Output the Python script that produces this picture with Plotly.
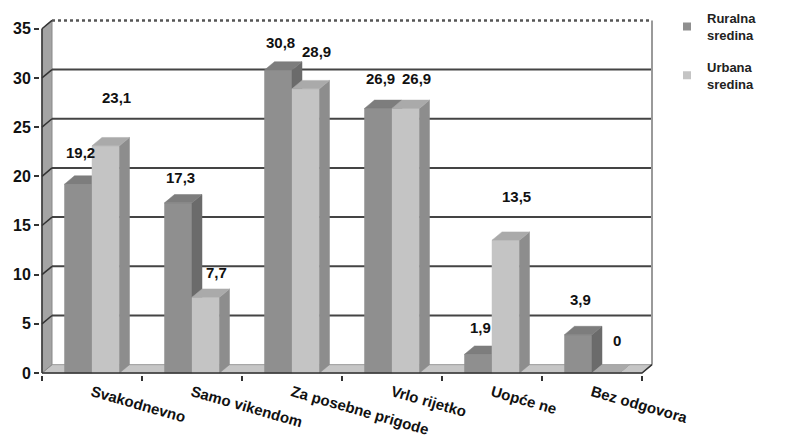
import plotly.graph_objects as go

categories = ["Svakodnevno", "Samo vikendom", "Za posebne prigode", "Vrlo rijetko", "Uopće ne", "Bez odgovora"]
ruralna = [19.2, 17.3, 30.8, 26.9, 1.9, 3.9]
urbana = [23.1, 7.7, 28.9, 26.9, 13.5, 0]
series_names = ["Ruralna<br>sredina", "Urbana<br>sredina"]
y_ticks = [0, 5, 10, 15, 20, 25, 30, 35]

# label vertical offsets (px) above bar tops, per series (styling only)
rural_label_shift = [32, 25, 28, 30, 27, 35]
urban_label_shift = [48, 25, 37, 30, 44, 33]

DX, DY = 0.1, 0.85      # 3D depth offset in axis units
W = 0.275               # bar front width
FONT = "Liberation Sans, Arial, sans-serif"

series = [
    dict(vals=ruralna, off=-W, front="#8f8f8f", side="#6b6b6b", top="#7d7d7d", shifts=rural_label_shift, lx=0.02),
    dict(vals=urbana, off=0.0, front="#c4c4c4", side="#8d8d8d", top="#aaaaaa", shifts=urban_label_shift, lx=0.11),
]

fig = go.Figure()
n = len(categories)


def poly(xs, ys, color):
    fig.add_trace(go.Scatter(x=xs + [xs[0]], y=ys + [ys[0]], mode="lines", fill="toself",
                             fillcolor=color, line=dict(color=color, width=0.5),
                             hoverinfo="skip", showlegend=False))


for i in range(n):
    for s in series:
        v = s["vals"][i]
        x0 = i + s["off"]
        x1 = x0 + W
        # front face
        poly([x0, x1, x1, x0], [0, 0, v, v], s["front"])
        # side face
        poly([x1, x1 + DX, x1 + DX, x1], [0, DY, v + DY, v], s["side"])
        # top face
        poly([x0, x1, x1 + DX, x0 + DX], [v, v, v + DY, v + DY], s["top"])

# legend entries
for name, s in zip(series_names, series):
    fig.add_trace(go.Scatter(x=[None], y=[None], mode="markers", name=f"<b>{name}</b>",
                             legendgroup=name,
                             marker=dict(symbol="square", size=8, color=s["front"])))

# value labels
annotations = []
for s in series:
    for i, v in enumerate(s["vals"]):
        txt = "0" if v == 0 else f"{v:.1f}".replace(".", ",")
        annotations.append(dict(x=i + s["off"] + W / 2 + s["lx"], y=v, text=f"<b>{txt}</b>", showarrow=False,
                                xref="x", yref="y", yanchor="middle", yshift=s["shifts"][i],
                                font=dict(family=FONT, size=15, color="#111111")))

# walls, floor, gridlines
x_left, x_right = -0.5, n - 0.5
top = y_ticks[-1]
shapes = []
# back wall
shapes.append(dict(type="rect", xref="x", yref="y", x0=x_left + DX, x1=x_right + DX, y0=DY, y1=top + DY,
                   fillcolor="white", line=dict(width=0), layer="below"))
# floor
shapes.append(dict(type="path", xref="x", yref="y",
                   path=f"M{x_left},0 L{x_right},0 L{x_right + DX},{DY} L{x_left + DX},{DY} Z",
                   fillcolor="#c6c6c6", line=dict(color="#9a9a9a", width=1), layer="below"))
# left wall
shapes.append(dict(type="path", xref="x", yref="y",
                   path=f"M{x_left},0 L{x_left + DX},{DY} L{x_left + DX},{top + DY} L{x_left},{top} Z",
                   fillcolor="#a4a4a4", line=dict(color="#888888", width=1), layer="below"))
for t in y_ticks[1:-1]:
    shapes.append(dict(type="line", xref="x", yref="y", x0=x_left + DX, x1=x_right + DX, y0=t + DY, y1=t + DY,
                       line=dict(color="#444444", width=2), layer="below"))
for t in y_ticks[1:]:
    shapes.append(dict(type="line", xref="x", yref="y", x0=x_left, x1=x_left + DX, y0=t, y1=t + DY,
                       line=dict(color="#333333", width=1.5), layer="below"))
# top edge (dotted) and right edge of back wall
shapes.append(dict(type="line", xref="x", yref="y", x0=x_left + DX, x1=x_right + DX, y0=top + DY, y1=top + DY,
                   line=dict(color="#555555", width=2.5, dash="dot"), layer="below"))
shapes.append(dict(type="line", xref="x", yref="y", x0=x_right + DX, x1=x_right + DX, y0=DY, y1=top + DY,
                   line=dict(color="#9a9a9a", width=2), layer="below"))
# front axis lines
shapes.append(dict(type="line", xref="x", yref="y", x0=x_left, x1=x_left, y0=0, y1=top,
                   line=dict(color="#333333", width=1.5)))
shapes.append(dict(type="path", xref="x", yref="y",
                   path=f"M{x_left},0 L{x_right},0 L{x_right + DX},{DY}",
                   line=dict(color="#333333", width=1.5)))

fig.update_layout(
    width=792, height=441,
    margin=dict(l=40, r=125, t=14, b=66, autoexpand=False),
    paper_bgcolor="white", plot_bgcolor="white",
    shapes=shapes, annotations=annotations,
    font=dict(family=FONT, color="#111111"),
    legend=dict(x=1.0, y=1.03, xanchor="left", yanchor="top", tracegroupgap=12,
                font=dict(family=FONT, size=13, color="#222222"), bgcolor="rgba(0,0,0,0)"),
    xaxis=dict(range=[-0.52, 5.75], tickmode="array", tickvals=list(range(n)),
               ticktext=[f"<b>{c}</b>" for c in categories], tickangle=16,
               tickfont=dict(family=FONT, size=15, color="#111111"),
               ticks="outside", ticklen=2, tickcolor="rgba(0,0,0,0)",
               minor=dict(tickmode="array", tickvals=[i - 0.5 for i in range(n + 1)],
                          ticks="outside", ticklen=5, tickcolor="#333333", tickwidth=1.5, showgrid=False),
               showgrid=False, zeroline=False, showline=False, fixedrange=True, automargin=False),
    yaxis=dict(range=[-0.2, 36.5], tickmode="array", tickvals=y_ticks,
               ticktext=[f"<b>{t}</b>" for t in y_ticks],
               tickfont=dict(family=FONT, size=16, color="#111111"),
               ticks="outside", ticklen=5, tickcolor="#333333", tickwidth=1.5,
               showgrid=False, zeroline=False, showline=False, fixedrange=True, automargin=False),
)

fig.write_html("out.html", config={"displayModeBar": False},
               post_script="document.body.style.margin='0px';document.body.style.padding='0px';")
